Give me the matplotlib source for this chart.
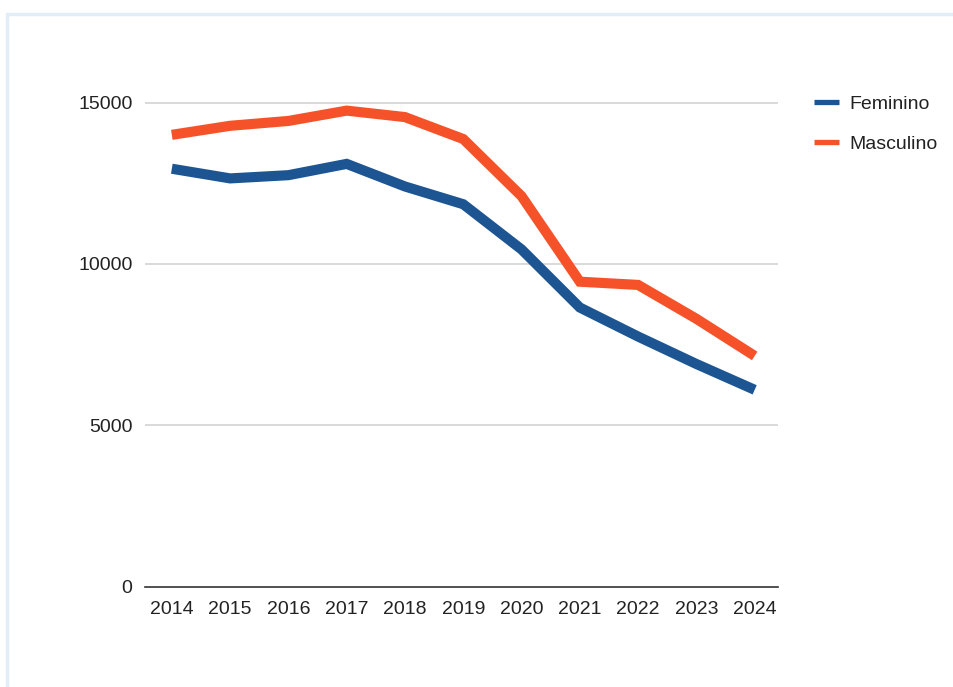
import matplotlib.pyplot as plt
from matplotlib.patches import Rectangle

plt.rcParams['font.family'] = ['Liberation Sans', 'DejaVu Sans']

# yearly totals by sex
anos = ['2014', '2015', '2016', '2017', '2018', '2019',
        '2020', '2021', '2022', '2023', '2024']
feminino = [12950, 12650, 12750, 13100, 12400, 11850,
            10450, 8650, 7750, 6900, 6100]
masculino = [14000, 14280, 14430, 14750, 14550, 13870,
             12100, 9450, 9350, 8300, 7150]
y_ticks = [0, 5000, 10000, 15000]

AZUL = '#1d5593'
LARANJA = '#f5522a'

fig = plt.figure(figsize=(9.54, 6.87), dpi=100)
fig.patch.set_facecolor('white')

# thin card outline around the chart
W, H = 954, 687
fig.patches.append(Rectangle((7 / W, -0.05), 1.0, 1 - 14 / H + 0.05,
                             transform=fig.transFigure, fill=False,
                             edgecolor='#e1eef7', lw=2.5))

ax = fig.add_axes([0.152, 0.146, 0.6635, 0.7517])
x = list(range(len(anos)))
ax.plot(x, feminino, color=AZUL, lw=7.3, solid_joinstyle='miter',
        solid_capstyle='butt', label='Feminino', zorder=3)
ax.plot(x, masculino, color=LARANJA, lw=7.3, solid_joinstyle='miter',
        solid_capstyle='butt', label='Masculino', zorder=3)

ax.set_xlim(-0.46, 10.4)
ax.set_ylim(0, 16000)
ax.set_xticks(x)
ax.set_xticklabels(anos)
ax.set_yticks(y_ticks)
ax.set_yticklabels([str(v) for v in y_ticks])
ax.tick_params(axis='both', length=0, labelsize=14, colors='#222222')
ax.tick_params(axis='x', pad=10)
ax.tick_params(axis='y', pad=9)

for v in y_ticks[1:]:
    ax.axhline(v, color='#cfcfcf', lw=1.1, zorder=1)
for side in ['top', 'right', 'left']:
    ax.spines[side].set_visible(False)
ax.spines['bottom'].set_color('#333333')
ax.spines['bottom'].set_linewidth(1.2)

leg = fig.legend(*ax.get_legend_handles_labels(), loc='upper left',
                 bbox_to_anchor=(814 / W, 1 - 95 / H),
                 frameon=False, fontsize=14, handlelength=1.3,
                 handletextpad=0.5, labelspacing=1.16,
                 borderpad=0.0, borderaxespad=0.0)
for line in leg.get_lines():
    line.set_linewidth(3.8)
for txt in leg.get_texts():
    txt.set_color('#222222')

fig.savefig('out.png', dpi=100, facecolor='white')
